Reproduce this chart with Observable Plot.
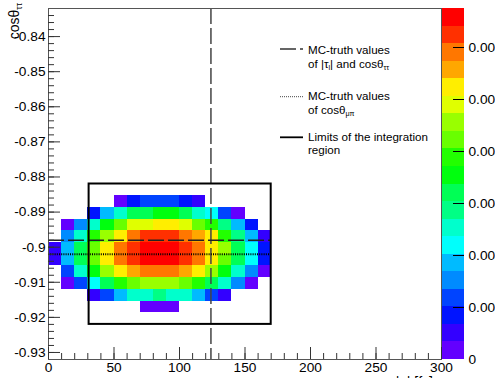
<!DOCTYPE html>
<html><head><meta charset="utf-8">
<script src="https://cdn.jsdelivr.net/npm/d3@7"></script>
<script src="https://cdn.jsdelivr.net/npm/@observablehq/plot@0.6"></script>
<style>
html,body{margin:0;padding:0;background:#fff;overflow:hidden;}
#wrap{position:relative;width:495px;height:378px;overflow:hidden;}
#wrap svg{position:absolute;left:0;top:0;}
</style></head><body><div id="wrap"></div>
<script>
// ---------------- data ----------------
const tauRange = [0, 300];            // x axis range
const cosRange = [-0.932, -0.832];    // y axis range
const tauBinWidth = 10;
const cosBinCount = 30;
const zMax = 0.00675;                 // top of colour scale (20 contours)
const contourCount = 20;
const paletteColors = ["#6300ff","#3300ff","#0014ff","#0044ff","#008bff","#00bbff","#00fffc","#00ffcc","#00ff85","#00ff55",
                       "#00ff0e","#22ff00","#69ff00","#99ff00","#e0ff00","#ffee00","#ffa700","#ff7700","#ff3000","#ff0000"];
// histogram rows: y-bin index (from bottom), first filled x-bin, bin contents
const cosBinIndex = [13, 12, 11, 10, 9, 8, 7, 6, 5, 4];
const firstTauBin = [5, 3, 1, 1, 0, 0, 1, 1, 3, 7];
const binContents = [
  [0.00017,0.00084,0.00118,0.00118,0.00118,0.00084,0.00051],
  [0.00084,0.00186,0.00253,0.00321,0.00321,0.00354,0.00354,0.00321,0.00253,0.00219,0.00118,0.00017],
  [0.00017,0.00152,0.00253,0.00354,0.00422,0.00489,0.00489,0.00523,0.00523,0.00489,0.00422,0.00388,0.00287,0.00186,0.00084],
  [0.00152,0.00253,0.00388,0.00456,0.00523,0.00591,0.00624,0.00624,0.00624,0.00591,0.00557,0.00523,0.00388,0.00287,0.00186,0.00051],
  [0.00051,0.00186,0.00321,0.00422,0.00523,0.00591,0.00624,0.00658,0.00658,0.00658,0.00624,0.00591,0.00523,0.00456,0.00321,0.00219,0.00084],
  [0.00051,0.00186,0.00321,0.00422,0.00523,0.00591,0.00624,0.00658,0.00658,0.00658,0.00624,0.00591,0.00523,0.00422,0.00321,0.00219,0.00084],
  [0.00118,0.00253,0.00354,0.00456,0.00523,0.00557,0.00591,0.00591,0.00591,0.00557,0.00523,0.00456,0.00354,0.00253,0.00152,0.00017],
  [0.00017,0.00118,0.00219,0.00321,0.00388,0.00422,0.00456,0.00456,0.00456,0.00422,0.00388,0.00321,0.00253,0.00152,0.00017],
  [0.00051,0.00118,0.00186,0.00253,0.00253,0.00287,0.00253,0.00253,0.00186,0.00118,0.00051],
  [0.00017,0.00017,0.00017]
];
const trueTau = 124;
const trueCosTauTau = -0.898;
const trueCosMuPi = -0.902;
const truthLineTau = [0, 170];
const integrationTau = [31, 170];
const integrationCos = [-0.922, -0.882];
const xTickValues = [0, 50, 100, 150, 200, 250, 300];
const xTickLabels = ["0", "50", "100", "150", "200", "250", "300"];
const yTickValues = [-0.93, -0.92, -0.91, -0.9, -0.89, -0.88, -0.87, -0.86, -0.85, -0.84];
const yTickLabels = ["-0.93", "-0.92", "-0.91", "-0.9", "-0.89", "-0.88", "-0.87", "-0.86", "-0.85", "-0.84"];
const zTickValues = [0, 0.001, 0.002, 0.003, 0.004, 0.005, 0.006];
const zTickLabels = ["0", "0.001", "0.002", "0.003", "0.004", "0.005", "0.006"];

// ---------------- layout ----------------
const FONT = "'Liberation Sans', Arial, Helvetica, sans-serif";
const W = 495, H = 378, mL = 48, mR = 54, mT = 8, mB = 19;
const plotW = W - mL - mR, plotH = H - mT - mB;
const barLeft = 442, barRight = 464, barW = barRight - barLeft;

const cosStep = (cosRange[1] - cosRange[0]) / cosBinCount;
const cells = [];
cosBinIndex.forEach((r, i) => binContents[i].forEach((v, j) => {
  const c = firstTauBin[i] + j;
  cells.push({tau1: tauRange[0] + c * tauBinWidth, tau2: tauRange[0] + (c + 1) * tauBinWidth,
              cos1: cosRange[0] + r * cosStep, cos2: cosRange[0] + (r + 1) * cosStep, value: v});
}));
const thresholds = d3.range(1, contourCount).map(i => i * zMax / contourCount);
const levels = d3.range(contourCount).map(i => ({lo: i * zMax / contourCount, hi: (i + 1) * zMax / contourCount, mid: (i + 0.5) * zMax / contourCount}));
const colorScale = {type: "threshold", domain: thresholds, range: paletteColors};
const xMinor = d3.range(tauRange[0], tauRange[1] + 1, 10);
const yMinor = d3.range(0, 51).map(i => -0.932 + i * 0.002);
const fmtX = d => xTickLabels[xTickValues.indexOf(d)];
const fmtY = d => yTickLabels[yTickValues.indexOf(d)];
const fmtZ = d => zTickLabels[zTickValues.indexOf(d)];

const main = Plot.plot({
  width: W, height: H, marginLeft: mL, marginRight: mR, marginTop: mT, marginBottom: mB,
  style: {fontFamily: FONT, fontSize: "13.7px", color: "black", background: "white"},
  x: {domain: tauRange, label: null},
  y: {domain: cosRange, label: null},
  color: colorScale,
  marks: [
    Plot.rect(cells, {x1: "tau1", x2: "tau2", y1: "cos1", y2: "cos2", fill: "value", shapeRendering: "crispEdges"}),
    Plot.ruleX([trueTau], {stroke: "#444", strokeWidth: 1.5, strokeDasharray: "16,4"}),
    Plot.ruleY([{y: trueCosTauTau, a: truthLineTau[0], b: truthLineTau[1]}], {y: "y", x1: "a", x2: "b", stroke: "#222", strokeWidth: 1.5, strokeDasharray: "16,4"}),
    Plot.ruleY([{y: trueCosMuPi, a: truthLineTau[0], b: truthLineTau[1]}], {y: "y", x1: "a", x2: "b", stroke: "#000", strokeWidth: 2, strokeDasharray: "1,1.2"}),
    Plot.rect([{a: integrationTau[0], b: integrationTau[1], c: integrationCos[0], d: integrationCos[1]}], {x1: "a", x2: "b", y1: "c", y2: "d", fill: "none", stroke: "black", strokeWidth: 2}),
    Plot.frame({stroke: "#555"}),
    Plot.tickY(yTickValues, {insetRight: plotW - 12, stroke: "#333"}),
    Plot.tickY(yMinor.filter(v => v > cosRange[0] + 1e-6 && v < cosRange[1] - 1e-6), {insetRight: plotW - 6, stroke: "#333"}),
    Plot.tickX(xTickValues, {insetTop: plotH - 12, stroke: "#333"}),
    Plot.tickX(xMinor, {insetTop: plotH - 6, stroke: "#333"}),
    Plot.axisY(yTickValues, {tickSize: 0, tickPadding: 3, tickFormat: fmtY, label: null}),
    Plot.axisX(xTickValues, {tickSize: 0, tickPadding: 3, tickFormat: fmtX, label: null})
  ]
});

const bar = Plot.plot({
  width: W, height: H, marginLeft: barLeft, marginRight: W - barRight, marginTop: mT, marginBottom: mB,
  style: {fontFamily: FONT, fontSize: "13.7px", color: "black", background: "transparent"},
  y: {domain: [0, zMax], label: null},
  color: colorScale,
  marks: [
    Plot.rect(levels, {y1: "lo", y2: "hi", fill: "mid", shapeRendering: "crispEdges"}),
    Plot.tickY(zTickValues.filter(v => v > 0), {insetLeft: barW - 11, stroke: "#000"}),
    Plot.axisY(zTickValues, {anchor: "right", tickSize: 0, tickPadding: 4, tickFormat: fmtZ, label: null})
  ]
});

const wrap = document.getElementById("wrap");
wrap.appendChild(main);
wrap.appendChild(bar);

// ---------------- titles & legend ----------------
const svg = d3.select(main);
function richText(g, x, y, parts, size) {
  const t = g.append("text").attr("x", x).attr("y", y).attr("font-size", size).attr("text-anchor", "start");
  let shifted = false;
  parts.forEach(p => {
    if (typeof p === "string") {
      t.append("tspan").attr("dy", shifted ? -size * 0.22 : null).text(p);
      shifted = false;
    } else {
      t.append("tspan").attr("font-size", size * 0.62).attr("dy", size * 0.22).text(p.sub);
      shifted = true;
    }
  });
  return t;
}
// y axis title
const yt = svg.append("g").attr("font-family", FONT).attr("transform", "translate(19,3) rotate(-90)");
const ytt = yt.append("text").attr("text-anchor", "end").attr("font-size", 14);
ytt.append("tspan").text("cosθ");
ytt.append("tspan").attr("font-size", 8.5).attr("dy", 3).text("ττ");
// x axis title (mostly below the window, as in the original)
const xt = svg.append("g").attr("font-family", FONT);
const xtt = xt.append("text").attr("x", 433).attr("y", 387).attr("text-anchor", "end").attr("font-size", 14);
xtt.append("tspan").text("|τ");
xtt.append("tspan").attr("font-size", 8.5).attr("dy", 3).text("l");
xtt.append("tspan").attr("dy", -3).text("| [fs]");

const leg = svg.append("g").attr("font-family", FONT).attr("fill", "black").attr("text-anchor", "start");
const fs = 11.6, tx = 308;
leg.append("line").attr("x1", 280).attr("x2", 303).attr("y1", 49).attr("y2", 49).attr("stroke", "#333").attr("stroke-width", 1.3).attr("stroke-dasharray", "16,4");
richText(leg, tx, 54, ["MC-truth values"], fs);
richText(leg, tx, 67.5, ["of |τ", {sub: "l"}, "| and cosθ", {sub: "ττ"}], fs);
leg.append("line").attr("x1", 280).attr("x2", 303).attr("y1", 96.7).attr("y2", 96.7).attr("stroke", "#444").attr("stroke-width", 1).attr("stroke-dasharray", "1,1");
richText(leg, tx, 99.5, ["MC-truth values"], fs);
richText(leg, tx, 113.5, ["of cosθ", {sub: "μπ"}], fs);
leg.append("line").attr("x1", 280).attr("x2", 303).attr("y1", 137.3).attr("y2", 137.3).attr("stroke", "#000").attr("stroke-width", 1.8);
richText(leg, tx, 141, ["Limits of the integration"], fs);
richText(leg, tx, 154, ["region"], fs);
</script>
</body></html>
